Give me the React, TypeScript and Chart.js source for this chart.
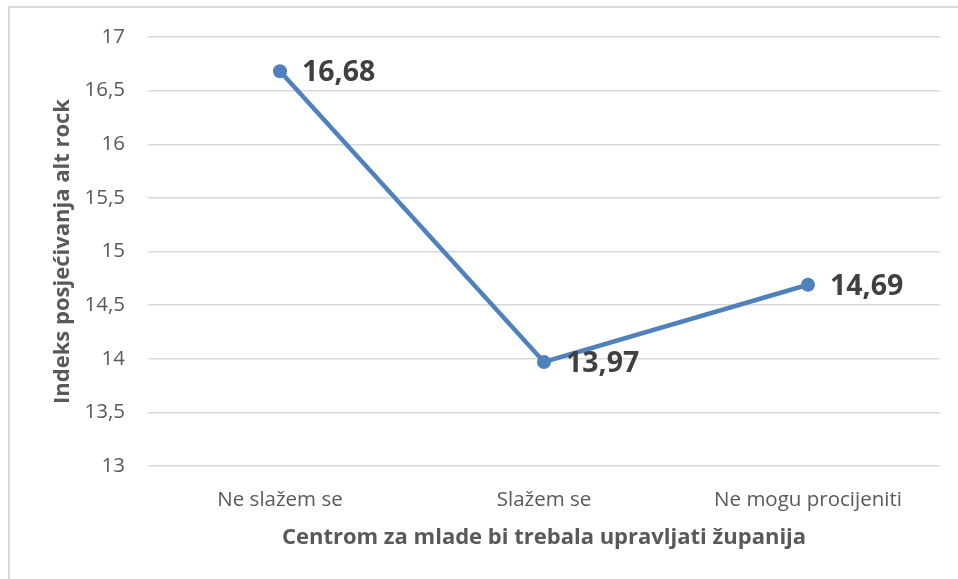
import React, { useEffect, useRef } from "react";
import { Chart, registerables } from "chart.js";

Chart.register(...registerables);

const categories: string[] = ["Ne slažem se", "Slažem se", "Ne mogu procijeniti"];
const values: number[] = [16.68, 13.97, 14.69];
const yMin = 13;
const yMax = 17;
const yStep = 0.5;
const xTitle = "Centrom za mlade bi trebala upravljati županija";
const yTitle = "Indeks posjećivanja alt rock";

const fmt = (v: number) => String(v).replace(".", ",");

const FONT = "'Open Sans', 'DejaVu Sans', sans-serif";

const labelPlugin = {
  id: "pointLabels",
  afterDatasetsDraw(chart: any) {
    const ctx = chart.ctx;
    const meta = chart.getDatasetMeta(0);
    ctx.save();
    ctx.font = `bold 28.5px ${FONT}`;
    ctx.fillStyle = "#404040";
    ctx.textAlign = "left";
    ctx.textBaseline = "middle";
    meta.data.forEach((pt: any, i: number) => {
      ctx.fillText(fmt(values[i]), pt.x + 22, pt.y + 2);
    });
    ctx.restore();
  },
};

export default function App() {
  const ref = useRef<HTMLCanvasElement>(null);
  useEffect(() => {
    if (!ref.current) return;
    const chart = new Chart(ref.current, {
      type: "line",
      data: {
        labels: categories,
        datasets: [
          {
            data: values,
            borderColor: "#4f81bd",
            backgroundColor: "#4f81bd",
            borderWidth: 4.5,
            pointRadius: 7,
            pointHoverRadius: 7,
            pointBackgroundColor: "#4f81bd",
            pointBorderWidth: 0,
            tension: 0,
          },
        ],
      },
      options: {
        animation: false,
        responsive: false,
        events: [],
        layout: { padding: { left: 40, right: 18, top: 29, bottom: 28 } },
        plugins: { legend: { display: false }, tooltip: { enabled: false } },
        scales: {
          x: {
            offset: true,
            grid: { display: false },
            border: { display: false },
            ticks: {
              color: "#595959",
              font: { family: FONT, size: 20.5 },
              padding: 14,
              maxRotation: 0,
            },
            title: {
              display: true,
              text: xTitle,
              color: "#595959",
              font: { family: FONT, size: 22, weight: "bold" },
              padding: 0,
            },
            afterFit(scale: any) {
              scale.height = 85;
            },
          },
          y: {
            min: yMin,
            max: yMax,
            grid: {
              color: "#d9d9d9",
              lineWidth: 1.5,
              drawTicks: true,
              tickLength: 23,
              tickColor: "rgba(0,0,0,0)",
            },
            border: { display: false },
            ticks: {
              stepSize: yStep,
              color: "#595959",
              font: { family: FONT, size: 20.5 },
              padding: 0,
              callback: (v: any) => fmt(Number(v)),
            },
            title: {
              display: true,
              text: yTitle,
              color: "#595959",
              font: { family: FONT, size: 22, weight: "bold" },
              padding: 0,
            },
            afterFit(scale: any) {
              scale.width = 98;
            },
          },
        },
      },
      plugins: [labelPlugin],
    });
    return () => chart.destroy();
  }, []);

  return (
    <div style={{ position: "fixed", left: 0, top: 0, width: 958, height: 579, overflow: "hidden", background: "#fff" }}>
      <div
        style={{
          position: "absolute",
          left: 8,
          top: 6,
          width: 960,
          height: 600,
          border: "2px solid #d9d9d9",
          background: "#fff",
        }}
      >
        <canvas ref={ref} width={948} height={571} style={{ display: "block" }} />
      </div>
    </div>
  );
}
